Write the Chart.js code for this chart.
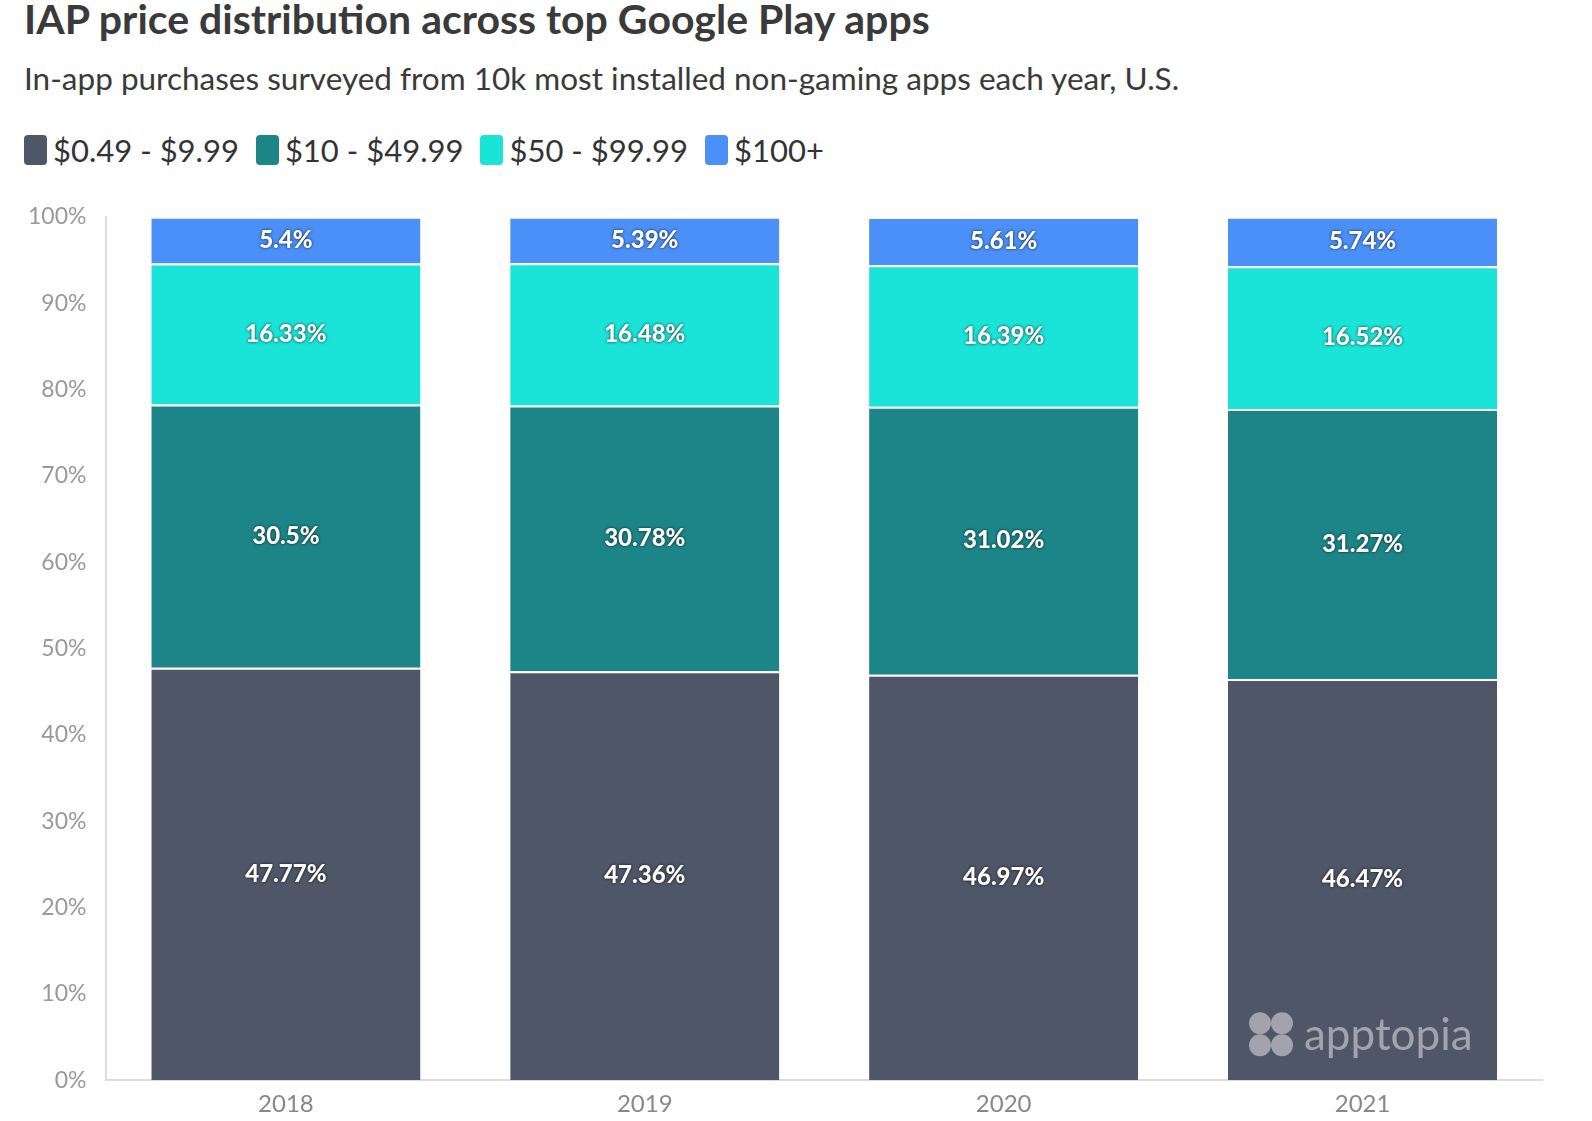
<!DOCTYPE html>
<html><head><meta charset="utf-8">
<script src="https://cdn.jsdelivr.net/npm/chart.js@4"></script>
<style>
body{margin:0;background:#fff;font-family:Lato,"Open Sans",sans-serif;color:#333;width:1592px;height:1121px;overflow:hidden;position:relative}
h1{position:absolute;left:24px;top:-6px;margin:0;font-size:41px;font-weight:700;color:#3a3a3a}
.sub{position:absolute;left:24px;top:59px;font-size:31.5px;color:#3a3a3a}
.legend{position:absolute;left:24px;top:131px;font-size:31px;color:#333;display:flex}
.legend span{display:flex;align-items:center;margin-right:17px}
.legend i{display:inline-block;width:23px;height:30px;border-radius:4px;margin-right:6px}
#wrap{position:absolute;left:0;top:195px;width:1582px;height:926px}
</style></head><body>
<h1>IAP price distribution across top Google Play apps</h1>
<div class="sub">In-app purchases surveyed from 10k most installed non-gaming apps each year, U.S.</div>
<div class="legend" id="legend"></div>
<div id="wrap"><canvas id="c"></canvas></div>
<script>
const years = ['2018', '2019', '2020', '2021'];
const seriesNames = ['$0.49 - $9.99', '$10 - $49.99', '$50 - $99.99', '$100+'];
const seriesColors = ['#4f5667', '#1c8588', '#1ae3d8', '#4a90f8'];
const low = [47.77, 47.36, 46.97, 46.47];
const mid = [30.5, 30.78, 31.02, 31.27];
const high = [16.33, 16.48, 16.39, 16.52];
const top100 = [5.4, 5.39, 5.61, 5.74];
const yTicks = [0, 10, 20, 30, 40, 50, 60, 70, 80, 90, 100];

document.getElementById('legend').innerHTML = seriesNames.map((n, i) =>
    `<span><i style="background:${seriesColors[i]}"></i>${n}</span>`).join('');

const labelPlugin = {
    id: 'segLabels',
    afterDatasetsDraw(chart) {
        const ctx = chart.ctx;
        ctx.save();
        ctx.font = '900 24px Lato, sans-serif';
        ctx.textAlign = 'center';
        ctx.textBaseline = 'middle';
        ctx.fillStyle = '#fff';
        ctx.shadowColor = 'rgba(0,0,0,0.8)';
        ctx.shadowBlur = 3;
        chart.data.datasets.forEach((ds, di) => {
            chart.getDatasetMeta(di).data.forEach((bar, i) => {
                const mid = (bar.y + bar.base) / 2;
                ctx.fillText(ds.data[i] + '%', bar.x, mid);
            });
        });
        ctx.restore();
        // watermark
        const a = chart.chartArea;
        ctx.save();
        ctx.fillStyle = 'rgba(190,190,195,0.75)';
        ctx.font = '44px Lato, sans-serif';
        ctx.textBaseline = 'middle';
        ctx.fillText('apptopia', a.right - 238, a.bottom - 44);
        [[-20, -55], [2, -55], [-20, -33], [2, -33]].forEach(p => {
            ctx.beginPath();
            ctx.arc(a.right - 262 + p[0], a.bottom + p[1] - 2, 11, 0, Math.PI * 2);
            ctx.fill();
        });
        ctx.restore();
    }
};

const dataSets = [low, mid, high, top100].map((d, i) => ({
    label: seriesNames[i],
    data: d,
    backgroundColor: seriesColors[i],
    borderColor: '#fff',
    borderWidth: {top: 2, bottom: 0, left: 0, right: 0},
    borderSkipped: false,
    categoryPercentage: 0.75,
    barPercentage: 1
}));

new Chart(document.getElementById('c'), {
    type: 'bar',
    data: {labels: years, datasets: dataSets},
    plugins: [labelPlugin],
    options: {
        responsive: true,
        maintainAspectRatio: false,
        animation: false,
        layout: {padding: {top: 16, right: 40, left: 20, bottom: 0}},
        plugins: {legend: {display: false}, tooltip: {enabled: false}},
        scales: {
            x: {
                stacked: true,
                grid: {display: false, drawTicks: true, tickLength: 8, color: '#ddd'},
                border: {color: '#ddd', width: 2},
                ticks: {color: '#888', font: {size: 24, family: 'Lato'}, padding: 2}
            },
            y: {
                stacked: true,
                min: 0, max: 100,
                afterBuildTicks: s => { s.ticks = yTicks.map(v => ({value: v})); },
                grid: {display: false, drawOnChartArea: false, tickLength: 12, color: '#ddd'},
                border: {color: '#ddd', width: 2},
                ticks: {color: '#999', font: {size: 23, family: 'Lato'}, callback: v => v + '%', padding: 8}
            }
        }
    }
});
</script>
</body></html>
